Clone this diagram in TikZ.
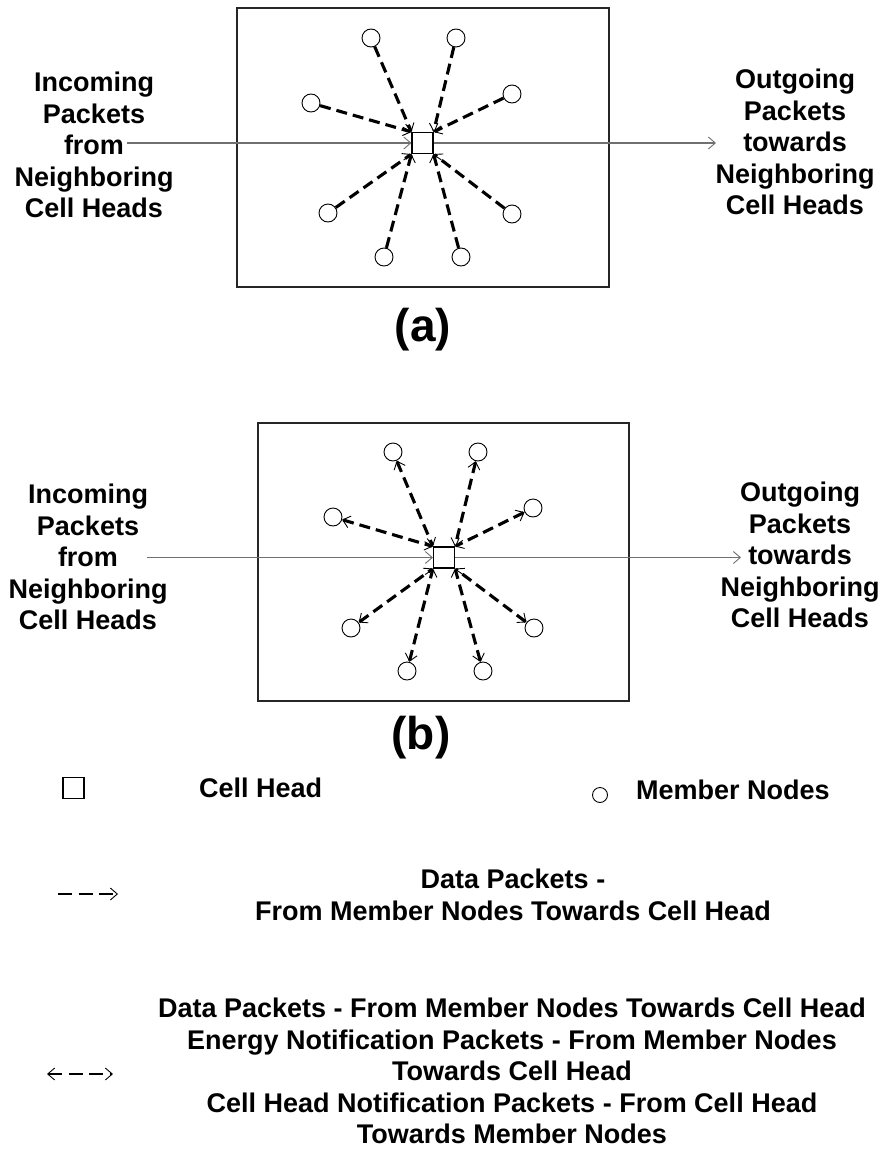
\documentclass[tikz,border=0pt]{standalone}
\usepackage{fontspec}
\setmainfont{Liberation Sans}
\usepackage{xcolor}
\usetikzlibrary{arrows.meta,positioning}
\definecolor{feedgray}{RGB}{112,112,112}

\begin{document}
\begin{tikzpicture}[
    x=1pt, y=-1pt,
    >={Straight Barb[length=7pt,width=12pt,line width=0.9pt]},
    label/.style={font=\fontsize{27}{31.5}\selectfont\bfseries, align=center, inner sep=0pt},
    tag/.style={font=\fontsize{46}{48}\selectfont\bfseries, inner sep=0pt},
    member/.style={circle, draw, line width=0.9pt, minimum size=18pt, inner sep=0pt},
    head/.style={rectangle, draw, line width=1.1pt, minimum size=21pt, inner sep=0pt},
    frame/.style={draw=black!85, line width=1.3pt},
    feed/.style={->, draw=feedgray, line width=1.3pt},
    data/.style={->, line width=3.1pt, dash pattern=on 11pt off 6pt},
    both/.style={<->, line width=3.1pt, dash pattern=on 11pt off 6pt}
]
\useasboundingbox (0,0) rectangle (885,1151);

% (a) member nodes send to the cell head
\draw[frame] (237,8) rectangle (609,287);
\node[head] (chA) at (422.5,143) {};
\node[member] (mA1) at (371,38) {};
\node[member] (mA2) at (456,38) {};
\node[member] (mA3) at (311,103) {};
\node[member] (mA4) at (512,94) {};
\node[member] (mA5) at (328,213) {};
\node[member] (mA6) at (512,214) {};
\node[member] (mA7) at (384,257) {};
\node[member] (mA8) at (461,257) {};
\draw[data] (mA1) -- (chA.north west);
\draw[data] (mA3) -- (chA.north west);
\draw[data] (mA2) -- (chA.north east);
\draw[data] (mA4) -- (chA.north east);
\draw[data] (mA5) -- (chA.south west);
\draw[data] (mA7) -- (chA.south west);
\draw[data] (mA6) -- (chA.south east);
\draw[data] (mA8) -- (chA.south east);

\node[label] (inA) at (94,145) {Incoming\\Packets\\from\\Neighboring\\Cell Heads};
\node[label] (outA) at (795,142) {Outgoing\\Packets\\towards\\Neighboring\\Cell Heads};
\coordinate (inAend) at (127,143);
\coordinate (outAend) at (716,143);
\draw[feed] (inAend) -- (chA.west);
\draw[feed] (chA.east) -- (outAend);
\node[tag] (tagA) at (423,330) {(a)};

% (b) traffic both ways
\draw[frame] (258,423) rectangle (629,701);
\node[head] (chB) at (444,557.5) {};
\node[member] (mB1) at (393,452) {};
\node[member] (mB2) at (478,452) {};
\node[member] (mB3) at (333,517) {};
\node[member] (mB4) at (533,508) {};
\node[member] (mB5) at (351,628) {};
\node[member] (mB6) at (534,628) {};
\node[member] (mB7) at (407,671) {};
\node[member] (mB8) at (483,671) {};
\draw[both] (mB1) -- (chB.north west);
\draw[both] (mB3) -- (chB.north west);
\draw[both] (mB2) -- (chB.north east);
\draw[both] (mB4) -- (chB.north east);
\draw[both] (mB5) -- (chB.south west);
\draw[both] (mB7) -- (chB.south west);
\draw[both] (mB6) -- (chB.south east);
\draw[both] (mB8) -- (chB.south east);

\node[label] (inB) at (88,557) {Incoming\\Packets\\from\\Neighboring\\Cell Heads};
\node[label] (outB) at (800,555) {Outgoing\\Packets\\towards\\Neighboring\\Cell Heads};
\coordinate (inBend) at (147,557.5);
\coordinate (outBend) at (741,557.5);
\draw[feed] (inBend) -- (chB.west);
\draw[feed] (chB.east) -- (outBend);
\node[tag] (tagB) at (421,738) {(b)};

% Legend
\node[head] (keyHead) at (73.5,788) {};
\node[label, anchor=west] (keyHeadText) at (199,788) {Cell Head};
\node[member, minimum size=15pt] (keyMember) at (600,795) {};
\node[label, anchor=west] (keyMemberText) at (636,790) {Member Nodes};

\coordinate (keyDataA) at (58,894);
\coordinate (keyDataB) at (118,894);
\draw[data, line width=2.5pt, dash pattern=on 14pt off 6.5pt] (keyDataA) -- (keyDataB);
\node[label] (keyDataText) at (513,895) {Data Packets -\\From Member Nodes Towards Cell Head};

\coordinate (keyBothA) at (47,1074);
\coordinate (keyBothB) at (113,1074);
\draw[both, line width=2.5pt, dash pattern=on 14pt off 6.5pt] (keyBothA) -- (keyBothB);
\node[label] (keyBothText) at (512,1071) {Data Packets - From Member Nodes Towards Cell Head\\Energy Notification Packets - From Member Nodes\\Towards Cell Head\\Cell Head Notification Packets - From Cell Head\\Towards Member Nodes};

\end{tikzpicture}
\end{document}
